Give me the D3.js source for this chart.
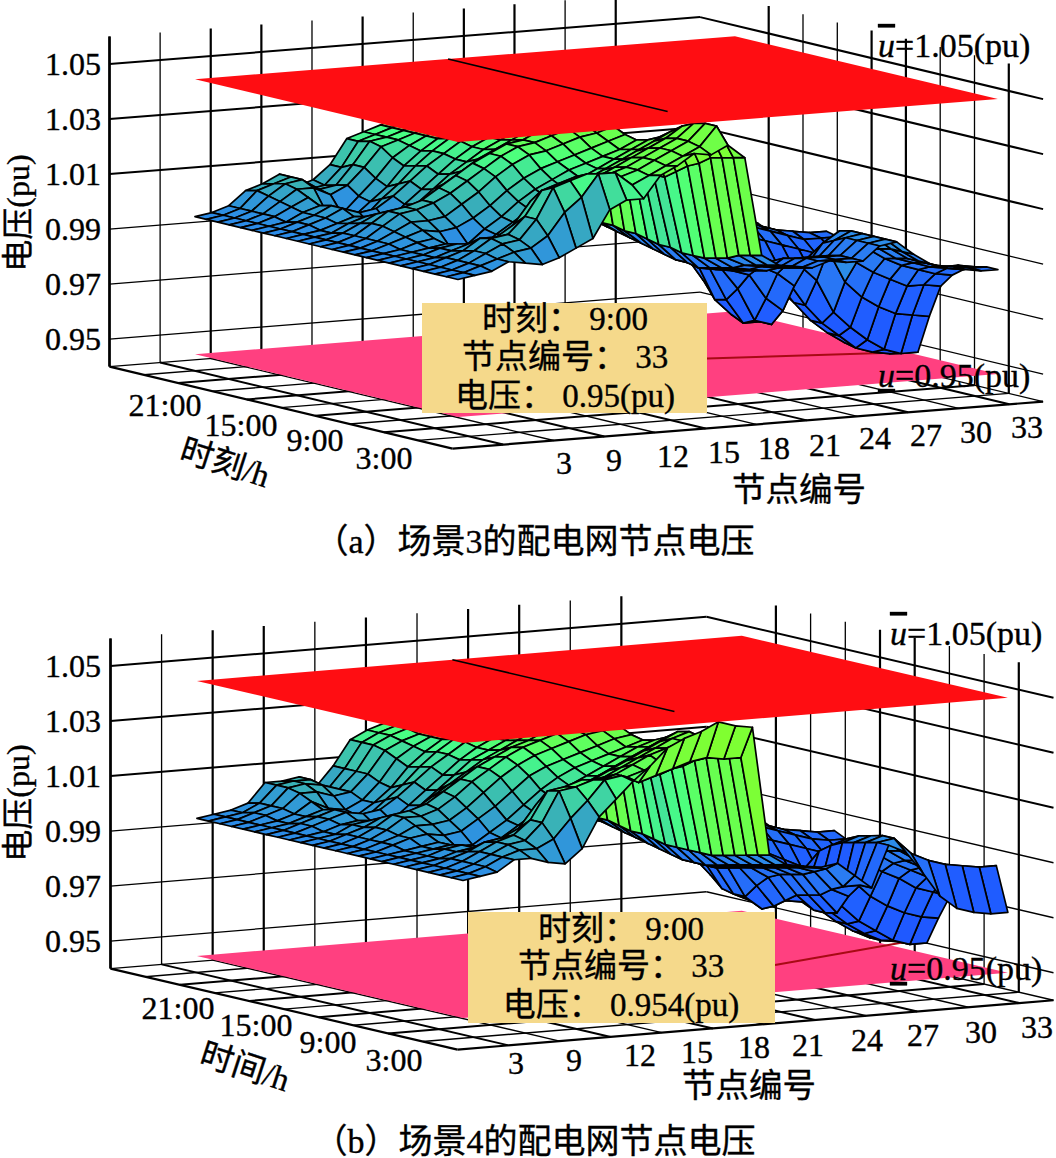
<!DOCTYPE html>
<html><head><meta charset="utf-8">
<script src="https://cdnjs.cloudflare.com/ajax/libs/d3/7.8.5/d3.min.js"></script>
<style>html,body{margin:0;background:#fff}svg{display:block}text{font-family:"Liberation Serif","Noto Sans CJK SC",serif;fill:#000;stroke:#000;stroke-width:.35px}</style>
</head><body><div id="c"></div>
<script>
const voltageTicks=[0.95,0.97,0.99,1.01,1.03,1.05];
const nodeTickLabels=[3,9,12,15,18,21,24,27,30,33];
const timeTickLabels=["21:00","15:00","9:00","3:00"];
// deviation from 1.000 pu in thousandths; one row per hour 1..24, nodes 1..18
const mainFeederA=[
[0,1,2,5,4,3,5,8,11,21,24,24,32,35,39,38,41,36],
[0,1,3,5,7,8,12,20,25,33,33,28,31,34,37,40,47,35],
[0,1,3,6,9,10,17,28,30,32,31,30,32,35,38,41,47,34],
[0,1,3,6,10,11,17,26,28,30,29,30,32,35,38,41,46,33],
[0,1,3,5,9,9,13,21,24,26,27,28,31,34,37,40,44,30],
[0,1,2,4,6,5,7,12,16,20,23,26,29,32,35,38,41,28],
[0,1,2,4,5,1,2,7,11,15,19,22,25,28,31,34,38,25],
[0,1,2,3,4,1,1,6,10,14,18,21,24,27,30,33,36,22],
[0,1,2,4,5,1,2,7,11,16,20,23,26,28,30,32,35,22],
[0,1,3,5,7,6,7,10,14,19,23,26,28,30,32,34,36,24],
[0,1,3,6,9,9,10,14,18,23,27,30,31,33,35,36,38,28],
[0,1,3,7,11,12,14,17,21,25,29,32,33,35,37,38,40,32],
[0,1,3,7,11,12,14,18,22,26,29,32,33,36,38,39,41,34],
[0,1,3,6,9,8,10,14,18,22,26,29,32,35,37,39,41,36],
[0,1,2,5,7,2,3,10,15,20,24,28,31,34,37,39,42,38],
[0,1,2,4,6,2,3,9,14,19,24,28,31,34,37,40,42,38],
[0,1,3,5,8,6,7,11,16,21,25,29,32,35,38,40,43,39],
[0,1,3,5,8,3,3,9,14,20,25,29,32,35,38,40,43,39],
[0,1,2,5,7,2,2,7,12,19,24,28,31,34,37,40,43,39],
[0,1,3,6,9,4,2,8,14,21,25,28,31,34,37,40,43,39],
[0,1,3,7,11,11,8,11,17,24,26,28,31,34,37,40,43,39],
[0,1,3,8,12,13,9,10,17,25,26,28,31,34,37,40,43,39],
[0,1,3,9,11,13,8,9,15,24,26,28,31,34,37,40,43,39],
[0,1,3,8,10,13,8,10,15,24,26,28,31,34,37,40,43,39]];
// nodes 19..33
const branchesA=[
[0,-4,-5,-6,-4,-5,-5,0,1,-4,-8,-10,-11,-12,-12],
[-1,-5,-6,-7,-5,-5,-5,0,1,-4,-8,-10,-11,-12,-12],
[-2,-6,-7,-8,-5,-5,-5,0,1,-4,-8,-10,-12,-12,-13],
[-4,-7,-8,-9,-6,-6,-6,0,1,-5,-9,-11,-13,-14,-15],
[-5,-9,-10,-11,-7,-8,-8,-2,1,-6,-10,-13,-15,-17,-18],
[-6,-10,-11,-12,-9,-10,-12,-4,0,-12,-16,-19,-22,-22,-23],
[-6,-11,-12,-13,-12,-15,-20,-9,-8,-20,-26,-30,-33,-34,-35],
[-6,-12,-13,-14,-16,-25,-30,-14,-20,-32,-38,-43,-47,-49,-49],
[-5,-11,-13,-14,-22,-34,-36,-21,-30,-37,-42,-47,-49,-50,-50],
[-5,-11,-13,-15,-27,-36,-36,-22,-30,-37,-42,-46,-48,-49,-49],
[-4,-10,-12,-15,-28,-34,-32,-20,-27,-33,-38,-41,-43,-44,-44],
[-3,-9,-11,-13,-22,-28,-25,-17,-22,-27,-30,-33,-35,-35,-35],
[-3,-8,-10,-11,-16,-20,-17,-12,-16,-19,-21,-23,-25,-25,-25],
[-2,-7,-8,-9,-10,-12,-10,-8,-10,-12,-14,-16,-18,-18,-18],
[-2,-6,-7,-8,-6,-7,-5,-5,-6,-8,-10,-12,-14,-14,-14],
[-1,-5,-6,-7,-5,-5,-5,-3,-5,-7,-9,-11,-12,-13,-13],
[-1,-4,-5,-6,-4,-5,-5,-3,-4,-7,-9,-11,-13,-15,-16],
[-1,-4,-5,-6,-4,-5,-5,-3,-5,-8,-10,-13,-15,-17,-18],
[-1,-4,-5,-7,-4,-6,-6,-4,-6,-9,-12,-15,-18,-20,-21],
[-1,-4,-5,-7,-4,-6,-6,-4,-6,-9,-12,-15,-17,-19,-20],
[-1,-4,-5,-6,-4,-5,-5,-3,-5,-8,-11,-14,-16,-17,-18],
[0,-3,-4,-5,-3,-5,-5,-3,-5,-8,-10,-12,-14,-15,-16],
[0,-3,-4,-5,-3,-4,-4,-2,-4,-7,-10,-12,-13,-14,-15],
[0,-3,-4,-5,-3,-4,-4,-2,-4,-7,-9,-11,-13,-14,-14]];
const mainFeederB=[
[0,1,2,6,6,4,3,8,19,25,31,36,42,45,47,50,48,47],
[0,1,3,6,8,8,11,18,24,31,32,29,31,33,35,36,35,35],
[0,1,3,6,9,10,16,27,28,30,30,30,32,34,36,38,38,34],
[0,1,3,6,9,11,16,26,27,29,28,30,33,36,38,40,41,33],
[0,1,3,5,8,9,12,20,23,25,26,28,31,34,37,40,42,32],
[0,1,2,4,5,5,6,10,14,18,22,26,29,32,35,38,41,30],
[0,1,2,4,5,2,2,7,11,15,19,23,26,29,32,35,38,27],
[0,1,2,3,4,1,1,5,9,13,18,22,25,28,31,34,36,25],
[0,1,2,3,4,2,2,6,10,15,20,24,27,29,31,33,35,22],
[0,1,3,5,6,5,6,10,14,19,24,27,29,31,33,35,36,24],
[0,1,3,5,8,8,9,13,18,23,27,30,32,34,36,37,38,27],
[0,1,3,6,10,10,12,16,21,25,29,32,34,36,37,38,40,30],
[0,1,3,6,10,11,13,17,21,25,28,31,33,36,38,39,41,33],
[0,1,3,5,8,8,10,14,18,22,26,29,32,35,37,39,41,35],
[0,1,2,5,6,3,4,10,15,20,25,28,31,34,37,39,42,37],
[0,1,2,4,5,3,4,9,14,19,24,28,31,34,37,40,42,38],
[0,1,3,5,7,6,7,11,16,21,25,29,32,35,38,40,43,39],
[0,1,3,5,7,4,4,9,14,20,25,29,32,35,38,40,43,39],
[0,1,2,4,6,3,3,7,12,19,24,28,31,34,37,40,43,39],
[0,1,2,4,8,5,4,7,13,21,25,28,31,34,37,40,43,39],
[0,1,3,5,10,10,8,9,15,23,26,28,31,34,37,40,43,39],
[0,1,3,5,11,12,11,9,15,24,27,29,31,34,37,40,43,39],
[0,1,2,5,11,12,12,8,15,24,27,29,31,34,37,40,43,39],
[0,1,2,4,11,11,12,8,15,24,27,29,31,34,37,40,43,39]];
const branchesB=[
[0,-4,-5,-6,-5,-10,-15,0,-3,-11,-20,-25,-27,-28,-28],
[-1,-5,-6,-7,-8,-15,-15,0,1,-5,-8,-10,-11,-12,-12],
[-2,-6,-7,-8,-10,-17,-20,-1,1,-5,-9,-11,-13,-14,-15],
[-3,-7,-8,-9,-12,-20,-27,-2,0,-6,-10,-13,-15,-17,-18],
[-4,-8,-9,-10,-13,-21,-28,-3,-1,-8,-12,-15,-18,-20,-22],
[-5,-9,-10,-11,-14,-22,-28,-5,-3,-12,-16,-19,-23,-25,-27],
[-5,-10,-11,-12,-16,-25,-26,-8,-10,-20,-26,-30,-33,-35,-36],
[-5,-11,-12,-13,-20,-28,-24,-14,-20,-30,-36,-40,-44,-46,-46],
[-5,-11,-13,-14,-25,-30,-24,-20,-27,-33,-38,-42,-45,-46,-46],
[-5,-11,-13,-15,-25,-28,-23,-21,-27,-33,-38,-42,-45,-46,-45],
[-4,-10,-12,-14,-24,-26,-22,-19,-24,-30,-35,-38,-41,-42,-42],
[-3,-9,-11,-13,-20,-22,-18,-16,-20,-25,-29,-32,-34,-35,-35],
[-3,-8,-10,-11,-15,-17,-14,-12,-15,-18,-21,-23,-25,-26,-26],
[-2,-7,-8,-9,-10,-11,-9,-8,-10,-12,-14,-16,-18,-19,-19],
[-1,-6,-7,-8,-6,-7,-5,-5,-6,-8,-10,-12,-14,-15,-15],
[-1,-5,-6,-7,-5,-5,-5,-3,-5,-7,-9,-11,-12,-13,-13],
[-1,-4,-5,-6,-4,-5,-5,-3,-4,-7,-9,-11,-13,-15,-16],
[-1,-4,-5,-6,-4,-5,-5,-3,-5,-8,-10,-13,-15,-17,-18],
[-1,-4,-5,-7,-4,-6,-6,-4,-6,-9,-12,-15,-18,-20,-21],
[-1,-4,-5,-7,-4,-6,-6,-4,-6,-9,-12,-15,-17,-19,-20],
[-1,-4,-5,-6,-4,-5,-5,-3,-5,-8,-11,-14,-16,-17,-18],
[0,-3,-4,-5,-3,-5,-5,-3,-5,-8,-10,-12,-14,-15,-16],
[0,-3,-4,-5,-3,-4,-4,-2,-4,-7,-10,-12,-13,-14,-15],
[0,-3,-4,-5,-3,-4,-4,-2,-4,-7,-9,-11,-13,-14,-14]];

const colorScale=d3.scaleLinear()
 .domain([0.95,0.98,0.995,1.0,1.01,1.02,1.026,1.033,1.05])
 .range(["#1e50ff","#2060ff","#2a7cf2","#2c8ce8","#38aeba","#40d8a0","#48ff84","#68ff50","#80ff30"]);

const panels=[
 {main:mainFeederA,branch:branchesA,o:[452.5,448.6],nv:[590.6,-47],tv:[-343,-82],
  nodePos:[[564,463],[614,460],[673,456],[724,452],[774,448],[825,445],[875,438],[926,435],[976,432],[1027,427]],
  timePos:[[165,405],[241,425],[315,440],[384,458]],
  vLabelY:213,timeTitle:"时刻/h",timeTitlePos:[225,463,18],nodeTitlePos:[799,489],
  caption:"（a）场景3的配电网节点电压",captionY:541,
  box:[422,303,285,110],boxCx:565,boxLines:["时刻： 9:00","节点编号： 33","电压： 0.95(pu)"],boxY:[319,357,396],minV:0.95,leaderY:358.5,
  upper:[878,57],lower:[878,387]},
 {main:mainFeederB,branch:branchesB,o:[457.5,1049.6],nv:[596,-49.35],tv:[-347,-81],
  nodePos:[[516,1063],[574,1060],[640,1055],[697,1052],[754,1047],[808,1045],[867,1040],[923,1035],[981,1032],[1037,1027]],
  timePos:[[178,1008],[256,1025],[328,1042],[394,1060]],
  vLabelY:803,timeTitle:"时间/h",timeTitlePos:[245,1067,18],nodeTitlePos:[749,1085],
  caption:"（b）场景4的配电网节点电压",captionY:1141,
  box:[468,912,307,111],boxCx:621,boxLines:["时刻： 9:00","节点编号： 33","电压： 0.954(pu)"],boxY:[929,966,1005],minV:0.954,leaderY:965,
  upper:[890,645],lower:[890,980]}
];
const svg=d3.select("#c").append("svg").attr("width",1056).attr("height",1158);

panels.forEach(p=>{
 const g=svg.append("g");
 const nX=d3.scaleLinear([0,35],[0,p.nv[0]]),nY=d3.scaleLinear([0,35],[0,p.nv[1]]);
 const tX=d3.scaleLinear([0,30],[0,p.tv[0]]),tY=d3.scaleLinear([0,30],[0,p.tv[1]]);
 const vY=d3.scaleLinear([0.94,1.06],[0,-330]);
 const proj=(n,t,v)=>[p.o[0]+nX(n)+tX(t),p.o[1]+nY(n)+tY(t)+vY(v)];
 const seg=(a,b,w)=>g.append("line").attr("x1",a[0]).attr("y1",a[1]).attr("x2",b[0]).attr("y2",b[1]).attr("stroke","#000").attr("stroke-width",w);
 const poly=(pts,fill)=>g.append("polygon").attr("points",pts.map(q=>q.join(",")).join(" ")).attr("fill",fill);
 // walls
 d3.range(0,31,3).forEach((n,i)=>seg(proj(n,30,0.94),proj(n,30,1.06),[2.2,1.3,2.2,2.2,1.3,2.2,1.3,2.2,2.2,1.3,2.2][i]));
 d3.range(3,25,3).forEach((t,i)=>seg(proj(35,t,0.94),proj(35,t,1.06),[2.2,1.3,1.3,2.2,2.2,1.3,1.3,2.2][7-i]));
 voltageTicks.forEach(v=>{const w=v>1?2:1.3;seg(proj(0,30,v),proj(35,30,v),w);seg(proj(35,30,v),proj(35,0,v),w);});
 seg(proj(0,30,0.94),proj(35,30,0.94),1.3);seg(proj(35,30,0.94),proj(35,0,0.94),1.3);
 // floor
 d3.range(3,34,3).forEach(n=>seg(proj(n,0,0.94),proj(n,30,0.94),n%2?2:1.4));
 d3.range(3,28,3).forEach(t=>seg(proj(0,t,0.94),proj(35,t,0.94),t%2?1.4:2));
 seg(proj(0,0,0.94),proj(0,30,0.94),2.2);seg(proj(0,0,0.94),proj(35,0,0.94),2.2);
 seg(proj(0,30,0.94),proj(0,30,1.06),2.4);
 // lower limit plane
 poly([[1,1],[33,1],[33,24],[1,24]].map(c=>proj(c[0],c[1],0.95)),"#ff4080");
 // leader
 g.append("line").attr("x1",p.box[0]+p.box[2]).attr("y1",p.leaderY)
  .attr("x2",proj(33,9,p.minV)[0]).attr("y2",proj(33,9,p.minV)[1]).attr("stroke","#a80a14").attr("stroke-width",2);
 // surface
 const Z=p.main.map((r,i)=>r.concat(p.branch[i]).map(d=>1+d/1000));
 const cells=[];
 for(let ti=0;ti<23;ti++)for(let ni=0;ni<32;ni++){
  cells.push({ti,ni,depth:1.37*(ni+1.5)+2.74*(ti+1.5)});
 }
 cells.sort((a,b)=>b.depth-a.depth);
 g.append("g").selectAll("polygon").data(cells).join("polygon")
  .attr("points",c=>[[0,0],[1,0],[1,1],[0,1]].map(o=>proj(c.ni+o[0]+1,c.ti+o[1]+1,Z[c.ti+o[1]][c.ni+o[0]]).join(",")).join(" "))
  .attr("fill",c=>colorScale(Z[c.ti][c.ni]))
  .attr("stroke","#000").attr("stroke-width",1.7).attr("stroke-linejoin","round");
 // upper limit plane
 poly([[1,1],[33,1],[33,24],[1,24]].map(c=>proj(c[0],c[1],1.05)),"#ff0d12");
 seg(proj(16,24,1.05),proj(16,4.8,1.05),1.6);
 // annotation
 g.append("rect").attr("x",p.box[0]).attr("y",p.box[1]).attr("width",p.box[2]).attr("height",p.box[3]).attr("fill","#f5d98b");
 p.boxLines.forEach((s,i)=>g.append("text").attr("x",p.boxCx).attr("y",p.boxY[i]).attr("text-anchor","middle").attr("dominant-baseline","central").attr("font-size",33).text(s));
 // tick labels
 voltageTicks.forEach(v=>g.append("text").attr("x",101).attr("y",proj(0,30,v)[1]).attr("text-anchor","end").attr("dominant-baseline","central").attr("font-size",32).text(v.toFixed(2)));
 nodeTickLabels.forEach((s,i)=>g.append("text").attr("x",p.nodePos[i][0]).attr("y",p.nodePos[i][1]).attr("text-anchor","middle").attr("dominant-baseline","central").attr("font-size",32).text(s));
 timeTickLabels.forEach((s,i)=>g.append("text").attr("x",p.timePos[i][0]).attr("y",p.timePos[i][1]).attr("text-anchor","middle").attr("dominant-baseline","central").attr("font-size",32).text(s));
 g.append("text").attr("transform",`translate(18,${p.vLabelY}) rotate(-90)`).attr("text-anchor","middle").attr("dominant-baseline","central").attr("font-size",32).text("电压(pu)");
 g.append("text").attr("transform",`translate(${p.timeTitlePos[0]},${p.timeTitlePos[1]}) rotate(${p.timeTitlePos[2]})`).attr("text-anchor","middle").attr("dominant-baseline","central").attr("font-size",33).text(p.timeTitle);
 g.append("text").attr("x",p.nodeTitlePos[0]).attr("y",p.nodeTitlePos[1]).attr("text-anchor","middle").attr("dominant-baseline","central").attr("font-size",33.5).text("节点编号");
 g.append("text").attr("x",534.5).attr("y",p.captionY).attr("text-anchor","middle").attr("dominant-baseline","central").attr("font-size",34).text(p.caption);
 // limit labels
 const lab=(pos,dec,rest)=>{const t=g.append("text").attr("x",pos[0]).attr("y",pos[1]).attr("font-size",34);
  t.append("tspan").attr("font-style","italic").style("text-decoration",dec).text("u");t.append("tspan").text(rest);};
 lab(p.upper,"overline","=1.05(pu)");
 lab(p.lower,"underline","=0.95(pu)");
});
</script></body></html>
